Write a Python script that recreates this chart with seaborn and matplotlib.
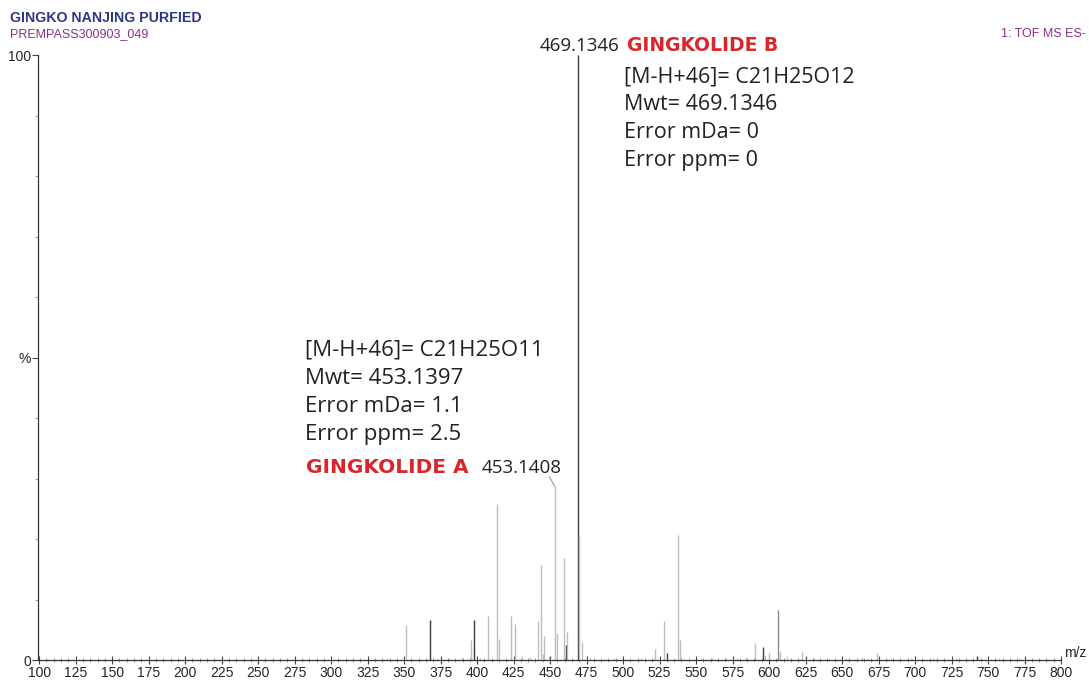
import numpy as np
import pandas as pd
import seaborn as sns
import matplotlib.pyplot as plt

# peak list (m/z, relative intensity %, shade)
mz = [351.6, 367.8, 396.0, 397.9, 407.7, 413.9, 414.8, 423.4, 425.9,
      441.7, 444.0, 444.8, 445.8, 453.14, 454.9, 459.5, 460.8, 461.7,
      469.13, 470.1, 471.8, 522.2, 527.9, 530.2, 537.7, 538.8, 590.1,
      595.9, 597.5, 599.7, 605.9, 607.3, 622.3, 663.6, 673.9, 742.3]
intensity = [5.8, 6.6, 3.3, 6.6, 7.2, 25.8, 3.5, 7.2, 5.9,
             6.5, 15.7, 1.0, 4.0, 28.7, 4.5, 16.8, 2.5, 4.7,
             100.0, 20.5, 3.0, 1.8, 6.4, 1.2, 20.7, 3.3, 2.8,
             2.2, 0.8, 1.1, 8.3, 1.4, 1.5, 0.5, 1.1, 0.7]
shade = ["light", "dark", "light", "dark", "light", "light", "light", "light", "light",
         "light", "light", "light", "light", "light", "light", "light", "dark", "light",
         "dark", "light", "light", "light", "light", "dark", "light", "light", "light",
         "dark", "light", "light", "mid", "light", "light", "light", "light", "dark"]

# small baseline noise peaks
noise_mz = [338.0, 372.5, 381.0, 389.5, 402.3, 431.0, 436.5, 449.0, 477.5, 485.0,
            493.5, 505.0, 512.5, 545.0, 553.5, 561.0, 570.5, 578.0, 584.5, 612.0,
            630.5, 641.0, 652.5, 660.0, 668.0, 683.5, 697.0, 712.5, 728.0, 757.5, 771.0]
noise_int = [0.3, 0.4, 0.3, 0.5, 0.4, 0.6, 0.5, 0.7, 0.5, 0.4,
             0.3, 0.4, 0.3, 0.5, 0.4, 0.3, 0.4, 0.3, 0.5, 0.6,
             0.4, 0.3, 0.4, 0.5, 0.4, 0.3, 0.3, 0.4, 0.3, 0.3, 0.3]

x_ticks = list(range(100, 801, 25))

sns.set_style("ticks")
plt.rcParams["font.family"] = ["Liberation Sans", "DejaVu Sans"]

peaks = pd.DataFrame({"mz": mz, "intensity": intensity, "shade": shade})
noise = pd.DataFrame({"mz": noise_mz, "intensity": noise_int})
palette = {"light": "#bdbdbd", "mid": "#8a8a8a", "dark": "#3c3c3c"}

fig = plt.figure(figsize=(10.89, 6.81), dpi=100)
ax = fig.add_axes([0.0349, 0.0308, 0.9394, 0.8884])

ax.vlines(noise["mz"], 0, noise["intensity"], color="#c8c8c8", lw=0.8)
for key, grp in peaks.groupby("shade"):
    ax.vlines(grp["mz"], 0, grp["intensity"], color=palette[key], lw=1.0)

ax.set_xlim(99.2, 800)
ax.set_ylim(0, 100)
ax.set_xticks(x_ticks)
ax.set_xticks(np.arange(100, 801, 5), minor=True)
ax.set_yticks([0, 50, 100])
ax.set_yticklabels(["0", "%", "100"])
ax.set_yticks(np.arange(0, 101, 10), minor=True)
ax.tick_params(axis="both", which="major", labelsize=10, length=4, width=0.8,
               color="#444444", pad=1)
ax.tick_params(axis="x", which="major", direction="inout", length=6)
ax.tick_params(axis="both", which="minor", length=2, width=0.6, color="#888888")
ax.tick_params(axis="x", which="minor", direction="inout", length=3)
for s in ["left", "bottom"]:
    ax.spines[s].set_linewidth(0.9)
    ax.spines[s].set_color("#333333")
sns.despine(ax=ax)
ax.text(1.003, 0.0, "m/z", transform=ax.transAxes, fontsize=10, va="bottom", ha="left")

# header texts
fig.text(0.009, 0.974, "GINGKO NANJING PURFIED", color="#2d3586", fontsize=10.2,
         fontweight="bold", va="center")
fig.text(0.009, 0.950, "PREMPASS300903_049", color="#86308a", fontsize=9, va="center")
fig.text(0.997, 0.950, "1: TOF MS ES-", color="#86308a", fontsize=9, va="center", ha="right")

# peak annotations
ann_font = ["Open Sans", "DejaVu Sans"]
name_font = ["DejaVu Sans"]
ax.text(470.0, 101.5, "469.1346", fontsize=13.5, ha="center", va="center",
        family=ann_font, color="#222222")
ax.text(503.0, 101.5, "GINGKOLIDE B", fontsize=13.5, ha="left", va="center",
        color="#d9262c", fontweight="heavy", family=name_font)
for i, line in enumerate(["[M-H+46]= C21H25O12", "Mwt= 469.1346",
                          "Error mDa= 0", "Error ppm= 0"]):
    ax.text(500.3, 96.4 - i * 4.63, line, fontsize=15.5, va="center",
            family=ann_font, color="#222222")

ax.plot([449.5, 453.14], [30.3, 28.7], color="#9a9a9a", lw=0.8)
ax.text(403, 31.8, "453.1408", fontsize=13.5, ha="left", va="center",
        family=ann_font, color="#222222")
ax.text(394.0, 31.8, "GINGKOLIDE A", fontsize=14.5, ha="right", va="center",
        color="#d9262c", fontweight="heavy", family=name_font)
for i, line in enumerate(["[M-H+46]= C21H25O11", "Mwt= 453.1397",
                          "Error mDa= 1.1", "Error ppm= 2.5"]):
    ax.text(282, 51.2 - i * 4.63, line, fontsize=16, va="center",
            family=ann_font, color="#222222")

fig.savefig("out.png", dpi=100)
